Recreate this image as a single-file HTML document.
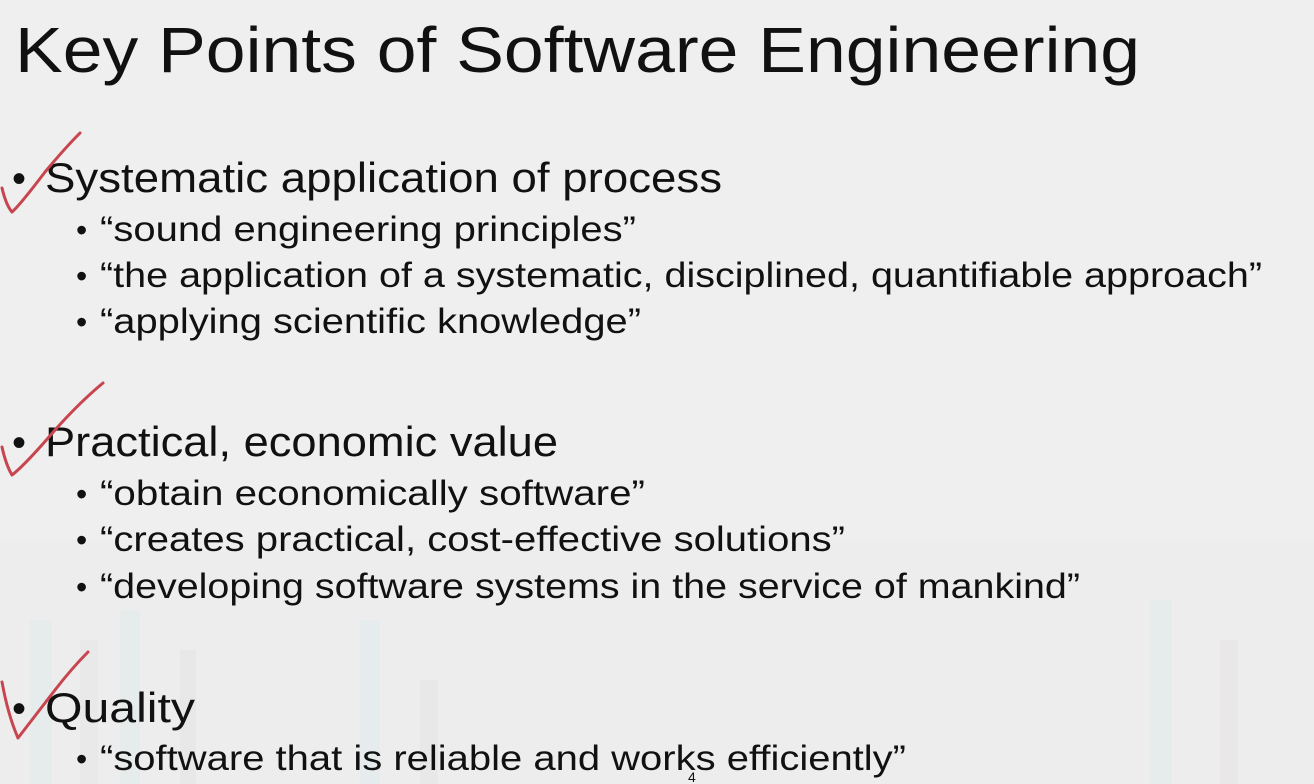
<!DOCTYPE html>
<html><head><meta charset="utf-8"><style>
html,body{margin:0;padding:0;background:#efefef;}
svg{display:block}
text{font-family:"Liberation Sans",sans-serif;fill:#111;}
</style></head><body>
<svg width="1314" height="784" viewBox="0 0 1314 784">
<rect width="1314" height="784" fill="#efefef"/>
<g opacity="0.35">
<rect x="0" y="540" width="1314" height="244" fill="#ececec"/>
<rect x="30" y="620" width="22" height="164" fill="#d6e6e6"/>
<rect x="80" y="640" width="18" height="144" fill="#e2dede"/>
<rect x="120" y="610" width="20" height="174" fill="#d6e4e8"/>
<rect x="180" y="650" width="16" height="134" fill="#dcdce0"/>
<rect x="360" y="620" width="20" height="164" fill="#d8e8ea"/>
<rect x="420" y="680" width="18" height="104" fill="#e0dcdc"/>
<rect x="1150" y="600" width="22" height="184" fill="#d6e4e6"/>
<rect x="1220" y="640" width="18" height="144" fill="#e0dada"/>
</g>
<text x="15" y="72" font-size="64" textLength="1125" lengthAdjust="spacingAndGlyphs">Key Points of Software Engineering</text>

<text x="12" y="192" font-size="40">•</text>
<text x="45" y="192" font-size="42" textLength="677" lengthAdjust="spacingAndGlyphs">Systematic application of process</text>
<text x="76" y="241" font-size="32">•</text>
<text x="100" y="241" font-size="35" textLength="536" lengthAdjust="spacingAndGlyphs">“sound engineering principles”</text>
<text x="76" y="287" font-size="32">•</text>
<text x="100" y="287" font-size="35" textLength="1162" lengthAdjust="spacingAndGlyphs">“the application of a systematic, disciplined, quantifiable approach”</text>
<text x="76" y="333" font-size="32">•</text>
<text x="100" y="333" font-size="35" textLength="541" lengthAdjust="spacingAndGlyphs">“applying scientific knowledge”</text>

<text x="12" y="456" font-size="40">•</text>
<text x="45" y="456" font-size="42" textLength="513" lengthAdjust="spacingAndGlyphs">Practical, economic value</text>
<text x="76" y="505" font-size="32">•</text>
<text x="100" y="505" font-size="35" textLength="545" lengthAdjust="spacingAndGlyphs">“obtain economically software”</text>
<text x="76" y="551" font-size="32">•</text>
<text x="100" y="551" font-size="35" textLength="745" lengthAdjust="spacingAndGlyphs">“creates practical, cost-effective solutions”</text>
<text x="76" y="598" font-size="32">•</text>
<text x="100" y="598" font-size="35" textLength="980" lengthAdjust="spacingAndGlyphs">“developing software systems in the service of mankind”</text>

<text x="12" y="722" font-size="40">•</text>
<text x="45" y="722" font-size="42" textLength="150" lengthAdjust="spacingAndGlyphs">Quality</text>
<text x="76" y="770" font-size="32">•</text>
<text x="100" y="770" font-size="35" textLength="806" lengthAdjust="spacingAndGlyphs">“software that is reliable and works efficiently”</text>
<text x="688" y="782" font-size="14" fill="#999">4</text>

<g fill="none" stroke="#c8454f" stroke-width="3" stroke-linecap="round" stroke-linejoin="round">
<path d="M2,188 Q6,205 12,212 Q20,205 45,172 Q65,148 80,133"/>
<path d="M2,447 Q6,465 12,475 Q25,465 55,430 Q80,402 103,383"/>
<path d="M2,682 Q8,715 18,738 Q32,720 55,690 Q72,668 88,652"/>
</g>
</svg>
</body></html>
